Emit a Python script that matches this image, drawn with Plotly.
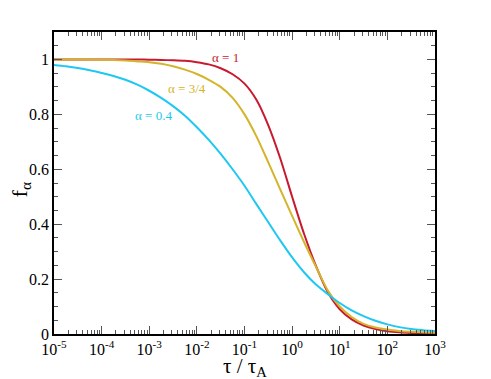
import plotly.graph_objects as go

# log10(tau/tau_A) positions, quarter decades, with values
log_tau = [-5, -4.75, -4.5, -4.25, -4, -3.75, -3.5, -3.25, -3, -2.75, -2.5, -2.25, -2, -1.75, -1.5, -1.25,
           -1, -0.75, -0.5, -0.25, 0, 0.25, 0.5, 0.75, 1, 1.25, 1.5, 1.75, 2, 2.25, 2.5, 2.75, 3]
tau = [10 ** v for v in log_tau]

f_alpha_1 = [1.0, 1.0, 1.0, 1.0, 1.0, 1.0, 1.0, 1.0, 0.999, 0.998, 0.997, 0.995, 0.99, 0.982, 0.968, 0.946,
             0.912, 0.853, 0.76, 0.64, 0.50, 0.365, 0.248, 0.152, 0.09, 0.053, 0.031, 0.018, 0.010, 0.006, 0.004, 0.003, 0.002]
f_alpha_34 = [1.0, 1.0, 1.0, 0.999, 0.999, 0.998, 0.996, 0.993, 0.99, 0.984, 0.975, 0.963, 0.947, 0.926, 0.90, 0.86,
              0.80, 0.72, 0.625, 0.527, 0.43, 0.335, 0.245, 0.158, 0.10, 0.062, 0.037, 0.024, 0.016, 0.011, 0.008, 0.006, 0.005]
f_alpha_04 = [0.98, 0.975, 0.969, 0.961, 0.951, 0.94, 0.926, 0.908, 0.886, 0.86, 0.83, 0.795, 0.753, 0.707, 0.656, 0.60,
              0.54, 0.473, 0.407, 0.341, 0.279, 0.225, 0.18, 0.145, 0.113, 0.086, 0.065, 0.048, 0.035, 0.025, 0.018, 0.014, 0.011]

labels = ['\u03b1 = 1', '\u03b1 = 3/4', '\u03b1 = 0.4']
label_logx = [-1.39, -2.20, -2.905]
label_y = [1.007, 0.895, 0.796]
colors = ['#c8192f', '#d4b42a', '#1ec8f0']

decades = list(range(-5, 4))
x_ticktext = ['10<sup>%d</sup>' % d for d in decades]

serif = 'Liberation Serif, Times New Roman, serif'

fig = go.Figure()
for ys, c, name in zip([f_alpha_1, f_alpha_34, f_alpha_04], colors, labels):
    fig.add_trace(go.Scatter(x=tau, y=ys, mode='lines', name=name,
                             line=dict(color=c, width=2, shape='spline', smoothing=0.8)))

for t, x, y, c in zip(labels, label_logx, label_y, colors):
    fig.add_annotation(x=x, y=y, xref='x', yref='y', text=t, showarrow=False,
                       xanchor='center', yanchor='middle',
                       font=dict(family=serif, size=13, color=c))

# axis titles
fig.add_annotation(x=0.501, y=-0.11, xref='paper', yref='paper', text='\u03c4 / \u03c4<sub>A</sub>',
                   xanchor='center', yanchor='middle',
                   showarrow=False, font=dict(family=serif, size=21, color='black'))
fig.add_annotation(x=-0.088, y=0.477, xref='paper', yref='paper', text='f<sub>\u03b1</sub>', textangle=-90,
                   xanchor='center', yanchor='middle',
                   showarrow=False, font=dict(family=serif, size=22, color='black'))

axis_common = dict(showline=True, linecolor='black', linewidth=1.5, mirror='ticks', automargin=False,
                   ticks='inside', tickcolor='#555', tickwidth=1, showgrid=False, zeroline=False,
                   tickfont=dict(family=serif, size=16, color='black'))

minor_x = [m * 10 ** d for d in decades[:-1] for m in range(2, 10)]

fig.update_xaxes(type='log', range=[-5, 3], tickmode='array', tickvals=[10 ** d for d in decades],
                 ticktext=x_ticktext, ticklen=8,
                 minor=dict(tickmode='array', tickvals=minor_x, ticks='inside', ticklen=4,
                            tickcolor='#555', showgrid=False),
                 **axis_common)
fig.update_yaxes(range=[0, 1.1], dtick=0.2, ticklen=8,
                 minor=dict(dtick=0.05, ticks='inside', ticklen=4, tickcolor='#555', showgrid=False),
                 **axis_common)

# page body adds 8px offset, so the figure is a bit smaller than the window
fig.update_layout(width=483, height=371, margin=dict(l=46, r=56, t=24, b=45),
                  plot_bgcolor='white', paper_bgcolor='white', showlegend=False)

fig.write_html("out.html")
